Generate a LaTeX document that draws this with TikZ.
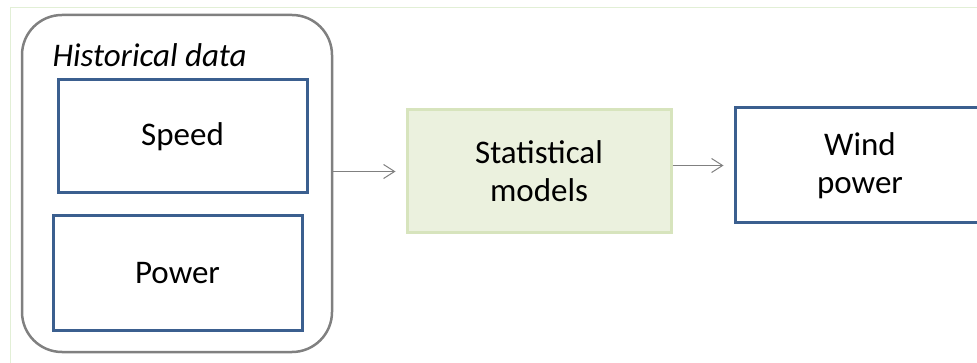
\documentclass[tikz,border=0pt]{standalone}
\usepackage{fontspec}
\setmainfont{Carlito}
\usetikzlibrary{arrows.meta}
\definecolor{boxblue}{HTML}{3B5F8F}
\definecolor{modelfill}{HTML}{EBF1DE}
\definecolor{modeldraw}{HTML}{D7E4BD}
\definecolor{framegreen}{HTML}{E2EFD6}
\begin{document}
\begin{tikzpicture}[x=1pt,y=-1pt,
  every node/.style={font=\fontsize{33}{38}\selectfont, align=center},
  databox/.style={draw=boxblue, line width=3pt, minimum width=249pt, minimum height=113pt},
  flow/.style={draw=gray, line width=1pt, -{Straight Barb[length=11pt,width=14pt]}, shorten >=10pt}]
\useasboundingbox (0,0) rectangle (977,363);
\draw[framegreen, line width=1pt] (10,8) rectangle (1000,380);
\node[draw=gray, line width=2.5pt, rounded corners=40pt, minimum width=310pt, minimum height=337pt] (hist) at (177,183.5) {};
\node[anchor=base west, font=\fontsize{33}{38}\selectfont\itshape] (histlabel) at (49,67) {Historical data};
\node[databox] (speed) at (182.5,136.5) {Speed};
\node[databox, minimum height=114pt] (power) at (177.5,273) {Power};
\node[draw=modeldraw, fill=modelfill, line width=3pt, minimum width=264pt, minimum height=123pt] (stat) at (539,171.5) {Statistical\\models};
\node[databox, minimum width=250pt, minimum height=115pt] (wind) at (860,165.5) {Wind\\power};
\path[flow] (hist.east |- stat.west) -- (stat.west);
\path[flow] (stat.east |- wind.west) -- (wind.west);
\end{tikzpicture}
\end{document}
